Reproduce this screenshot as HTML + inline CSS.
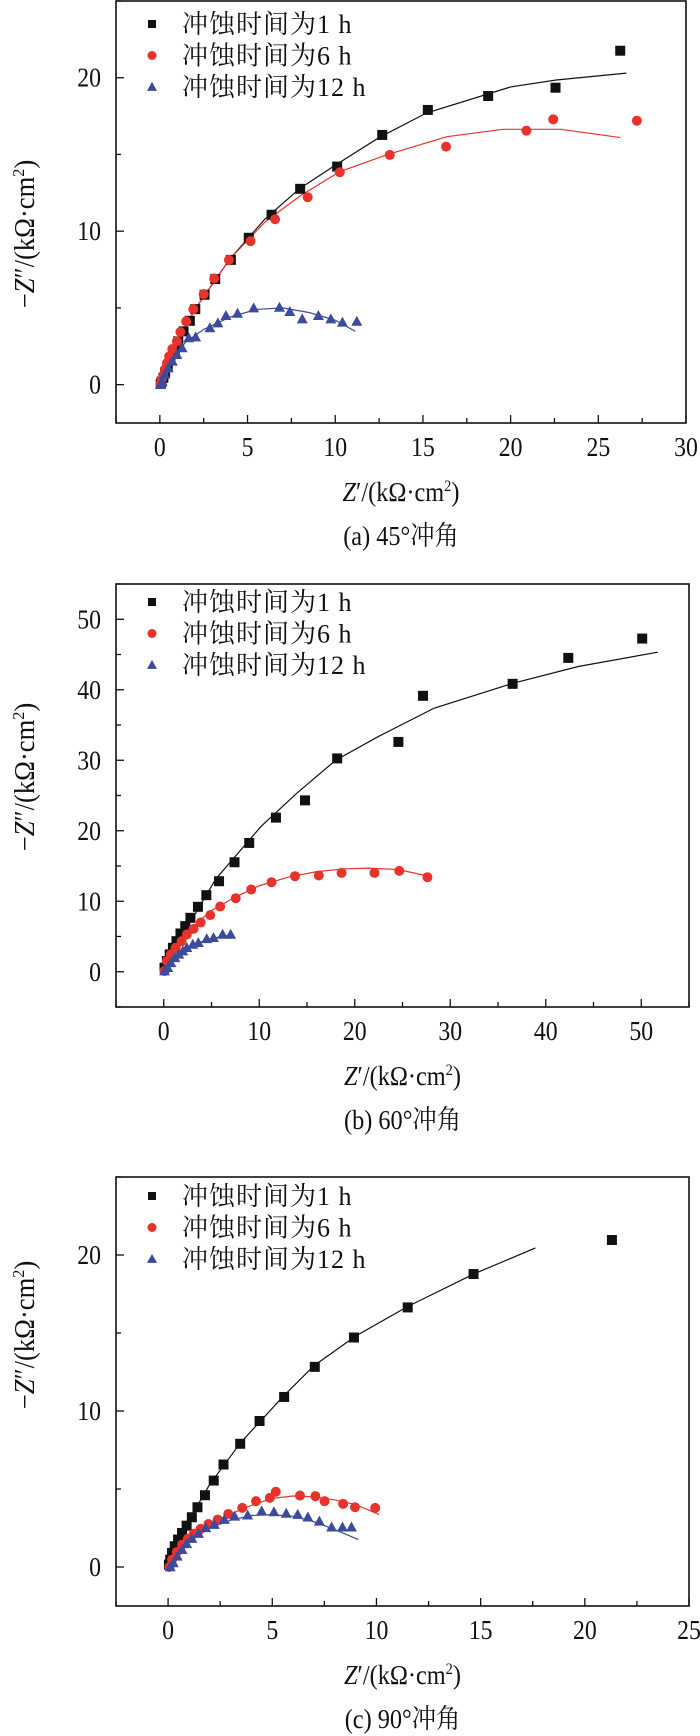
<!DOCTYPE html>
<html><head><meta charset="utf-8">
<style>
html,body{margin:0;padding:0;background:#fff;}
svg{display:block;font-family:"Liberation Serif","Noto Serif CJK SC",serif;}
</style></head>
<body>
<svg id="chart" width="700" height="1736" viewBox="0 0 700 1736" xmlns="http://www.w3.org/2000/svg"></svg>
<script>
// ---------- Panel (a) 45° ----------
const aSq = [[26.25,21.76],[22.56,19.35],[18.72,18.81],[15.28,17.9],[12.68,16.27],[10.11,14.21],[8.0,12.76],[6.37,11.07],[5.07,9.57],[4.05,8.13],[3.16,6.88],[2.55,5.86],[2.02,4.92],[1.71,4.16],[1.35,3.47],[1.05,2.82],[0.85,2.28],[0.6,1.7],[0.45,1.2],[0.3,0.8],[0.2,0.45],[0.1,0.2],[0.05,0.05]];
const aSqFit = [[0,0],[1,2.7],[2,4.9],[4,8.2],[6,10.8],[8,12.8],[10,14.3],[12.5,16.1],[15.2,17.7],[20,19.4],[22.6,19.85],[26.6,20.3]];
const aCi = [[27.2,17.2],[22.43,17.29],[20.9,16.55],[16.32,15.51],[13.11,14.97],[10.26,13.84],[8.43,12.21],[6.57,10.78],[5.17,9.35],[3.94,8.13],[3.1,6.92],[2.5,5.9],[1.91,4.92],[1.5,4.12],[1.17,3.43],[0.97,2.82],[0.71,2.32],[0.53,1.84],[0.4,1.4],[0.3,1.0],[0.2,0.6],[0.1,0.3],[0.05,0.05]];
const aCiFit = [[0,0],[1,2.8],[2,4.9],[4,8.2],[6,10.6],[8,12.3],[10.26,13.88],[13,15.0],[16.37,16.16],[19.56,16.64],[22.87,16.64],[26.25,16.1]];
const aTr = [[11.23,4.12],[10.41,4.06],[9.75,4.27],[9.04,4.49],[8.12,4.27],[7.41,4.75],[6.82,5.03],[5.35,4.99],[4.43,4.64],[3.77,4.49],[3.31,4.01],[2.85,3.69],[2.04,3.1],[1.65,3.04],[1.27,2.39],[0.97,1.95],[0.71,1.52],[0.48,1.08],[0.28,0.65],[0.13,0.22],[0.03,0]];
const aTrFit = [[0,0],[0.5,1.2],[1,2.1],[1.5,2.8],[2.5,3.6],[4,4.4],[5.5,4.9],[7,5.0],[8.5,4.7],[10,4.2],[11.15,3.47]];
const aXTicks = [0,5,10,15,20,25,30];
const aYTicks = [0,10,20];

// ---------- Panel (b) 60° ----------
const bSq = [[50.1,47.26],[42.36,44.52],[36.53,40.84],[27.15,39.14],[24.57,32.6],[18.16,30.26],[14.79,24.31],[11.75,21.86],[8.95,18.27],[7.41,15.53],[5.79,12.84],[4.46,10.86],[3.58,9.21],[2.79,7.65],[2.25,6.47],[1.75,5.43],[1.33,4.34],[0.96,3.4],[0.62,2.46],[0.33,1.51],[0.08,0.57]];
const bSqFit = [[0,0],[2,5.2],[5.41,13.08],[10.2,20.63],[13.95,25.35],[18,30],[22.49,33.38],[28.32,37.39],[36.5,40.9],[43.4,43.3],[51.73,45.33]];
const bCi = [[27.61,13.41],[24.66,14.31],[22.07,14.02],[18.62,14.02],[16.24,13.65],[13.74,13.55],[11.29,12.7],[9.16,11.67],[7.54,10.43],[5.91,9.25],[4.87,8.03],[3.87,6.99],[3.12,6.09],[2.42,5.29],[1.87,4.34],[1.25,3.4],[0.75,2.46],[0.33,1.51],[0.08,0.1]];
const bCiFit = [[0,0],[1,3.3],[2.5,5.8],[5,8.7],[7.5,10.6],[10,12.2],[13,13.4],[16,14.2],[19,14.6],[21.5,14.7],[24.5,14.5],[27.6,13.6]];
const bTr = [[7.0,5.29],[6.16,5.29],[5.21,4.82],[4.5,4.67],[3.62,4.11],[3.04,3.87],[2.42,3.4],[2.0,2.93],[1.58,2.46],[1.17,1.98],[0.75,1.27],[0.42,0.57],[0.08,0.1]];
const bTrFit = [[0,0],[0.5,1],[1,1.9],[2,3],[3,3.8],[4.5,4.5],[6,5],[7.2,5.2]];
const bXTicks = [0,10,20,30,40,50];
const bYTicks = [0,10,20,30,40,50];

// ---------- Panel (c) 90° ----------
const cSq = [[21.3,20.96],[14.66,18.78],[11.5,16.64],[8.92,14.71],[7.04,12.83],[5.57,10.9],[4.39,9.36],[3.46,7.9],[2.66,6.57],[2.19,5.54],[1.77,4.6],[1.41,3.83],[1.14,3.19],[0.89,2.65],[0.67,2.18],[0.48,1.76],[0.32,1.33],[0.19,0.9],[0.1,0.47],[0.04,0.15]];
const cSqFit = [[0,0],[0.5,1.6],[1,3.0],[2,5.3],[3.5,8.0],[5.5,10.9],[7,12.9],[9,14.8],[11.5,16.7],[14.7,18.8],[17.63,20.45]];
const cCi = [[9.94,3.79],[8.97,3.83],[8.4,4.05],[7.51,4.22],[7.07,4.54],[6.33,4.58],[5.17,4.82],[4.88,4.43],[4.22,4.22],[3.56,3.79],[2.89,3.4],[2.38,3.04],[1.94,2.76],[1.56,2.44],[1.24,2.14],[0.95,1.82],[0.67,1.43],[0.42,0.96],[0.19,0.47],[0.06,0]];
const cCiFit = [[0,0],[0.5,1.2],[1.2,2.1],[2,2.8],[3,3.4],[4,3.95],[5,4.4],[6,4.55],[7,4.5],[8,4.3],[9,4.0],[10.13,3.36]];
const cTr = [[8.8,2.55],[8.37,2.55],[7.85,2.55],[7.26,2.93],[6.71,3.19],[6.22,3.36],[5.67,3.43],[5.08,3.53],[4.49,3.58],[3.82,3.32],[3.19,3.25],[2.7,3.04],[2.22,2.72],[1.81,2.51],[1.46,2.14],[1.14,1.82],[0.89,1.48],[0.67,1.11],[0.44,0.68],[0.25,0.26],[0.1,0]];
const cTrFit = [[0,0],[0.5,0.9],[1,1.6],[2,2.5],[3,3.0],[4,3.3],[5,3.35],[6,3.25],[7,2.9],[8,2.4],[9.13,1.76]];
const cXTicks = [0,5,10,15,20,25];
const cYTicks = [0,10,20];

const legendLabels = ["冲蚀时间为1 h","冲蚀时间为6 h","冲蚀时间为12 h"];
const captions = ["(a) 45°冲角","(b) 60°冲角","(c) 90°冲角"];

const NS = "http://www.w3.org/2000/svg";
const svg = document.getElementById('chart');
const BLACK="#111", RED="#e8322c", BLUE="#3c4b9c";

function mk(tag, attrs, parent){
  const e = document.createElementNS(NS, tag);
  for (const k in attrs) e.setAttribute(k, attrs[k]);
  (parent||svg).appendChild(e);
  return e;
}

function marker(g, kind, px, py, s){
  let e;
  if (kind==='sq'){ e = mk('rect',{x:px-s/2,y:py-s/2,width:s,height:s,fill:BLACK},g); }
  else if (kind==='ci'){ e = mk('circle',{cx:px,cy:py,r:s/2,fill:RED},g); }
  else { const h=s*0.95; e = mk('polygon',{points:`${px},${py-h*0.6} ${px-s/2-0.5},${py+h*0.45} ${px+s/2+0.5},${py+h*0.45}`,fill:BLUE},g); }
  return e;
}

function panel(cfg){
  const {id,L,R,T,B,xmin,xmax,ymin,ymax,xTicks,yTicks,xMinor,yMinor,series,caption,yTitleY,legendY} = cfg;
  const g = mk('g',{});
  
  
  const sx = v => L + (v - xmin)/(xmax - xmin)*(R - L);
  const sy = v => B - (v - ymin)/(ymax - ymin)*(B - T);

  for (let v = Math.ceil(xmin/xMinor)*xMinor; v <= xmax+1e-9; v += xMinor){
    const major = xTicks.some(t => Math.abs(t-v)<1e-9);
    const t = mk('line',{x1:sx(v),x2:sx(v),y1:B,y2:B-(major?8:5),stroke:BLACK,'stroke-width':1.3},g);
    
    
  }
  for (let v = Math.ceil(ymin/yMinor)*yMinor; v <= ymax+1e-9; v += yMinor){
    const major = yTicks.some(t => Math.abs(t-v)<1e-9);
    const t = mk('line',{x1:L,x2:L+(major?8:5),y1:sy(v),y2:sy(v),stroke:BLACK,'stroke-width':1.3},g);
    
    
  }
  xTicks.forEach(v=>{
    const t = mk('text',{x:0,y:0,'font-size':27,'text-anchor':'middle',fill:BLACK,transform:`translate(${sx(v)},${B+33}) scale(0.88,1)`},g);
    t.textContent = v;
    
    
  });
  yTicks.forEach(v=>{
    const t = mk('text',{x:0,y:0,'font-size':27,'text-anchor':'end',fill:BLACK,transform:`translate(${L-15},${sy(v)+9}) scale(0.88,1)`},g);
    t.textContent = v;
    
    
  });

  const colors = {sq:BLACK, ci:RED, tr:BLUE};
  series.forEach(s=>{
    const pl = mk('polyline',{points:s.fit.map(p=>sx(p[0])+','+sy(p[1])).join(' '),fill:'none',stroke:colors[s.kind],'stroke-width':1.2},g);
    
    
  });
  series.forEach(s=>{
    s.pts.forEach(p=>{
      const m = marker(g, s.kind, sx(p[0]), sy(p[1]), 10);
      
      
    });
  });

  const fr = mk('rect',{x:L,y:T,width:R-L,height:B-T,fill:'none',stroke:BLACK,'stroke-width':1.6},g);
  
  

  const kinds = ['sq','ci','tr'];
  kinds.forEach((k,i)=>{
    const yy = legendY + i*31.5;
    const m = marker(g, k, 152, yy, k==='sq'?8:9);
    
    
    const t = mk('text',{x:182,y:yy+9,'font-size':26,'letter-spacing':1,fill:BLACK},g);
    t.textContent = legendLabels[i];
    
    
  });

  const xt = mk('text',{x:0,y:0,'font-size':27,'text-anchor':'middle',fill:BLACK,transform:`translate(${(L+R)/2},${B+78}) scale(0.9,1)`},g);
  xt.innerHTML = '<tspan font-style="italic">Z</tspan>′/(kΩ·cm<tspan font-size="16" dy="-10">2</tspan><tspan dy="10">)</tspan>';
  
  

  const yt = mk('text',{x:0,y:0,'font-size':28,'text-anchor':'middle',fill:BLACK,transform:`translate(34,${yTitleY}) rotate(-90) scale(0.95,1)`},g);
  yt.innerHTML = '−<tspan font-style="italic">Z</tspan>″/(kΩ·cm<tspan font-size="17" dy="-10">2</tspan><tspan dy="10">)</tspan>';
  
  

  const cp = mk('text',{x:0,y:0,'font-size':27,'text-anchor':'middle',fill:BLACK,transform:`translate(${(L+R)/2},${B+122}) scale(0.9,1)`},g);
  cp.textContent = caption;
  
  
}

panel({id:'a',L:116,R:686,T:1,B:423,xmin:-2.5,xmax:30,ymin:-2.5,ymax:25,xTicks:aXTicks,yTicks:aYTicks,xMinor:2.5,yMinor:5,
  series:[{kind:'sq',pts:aSq,fit:aSqFit},{kind:'ci',pts:aCi,fit:aCiFit},{kind:'tr',pts:aTr,fit:aTrFit}],
  caption:captions[0],yTitleY:234,legendY:24});
panel({id:'b',L:116,R:689,T:584,B:1007,xmin:-5,xmax:55,ymin:-5,ymax:55,xTicks:bXTicks,yTicks:bYTicks,xMinor:5,yMinor:5,
  series:[{kind:'sq',pts:bSq,fit:bSqFit},{kind:'ci',pts:bCi,fit:bCiFit},{kind:'tr',pts:bTr,fit:bTrFit}],
  caption:captions[1],yTitleY:777,legendY:602});
panel({id:'c',L:116,R:689,T:1177,B:1606,xmin:-2.5,xmax:25,ymin:-2.5,ymax:25,xTicks:cXTicks,yTicks:cYTicks,xMinor:2.5,yMinor:5,
  series:[{kind:'sq',pts:cSq,fit:cSqFit},{kind:'ci',pts:cCi,fit:cCiFit},{kind:'tr',pts:cTr,fit:cTrFit}],
  caption:captions[2],yTitleY:1335,legendY:1196});
</script>
</body></html>
